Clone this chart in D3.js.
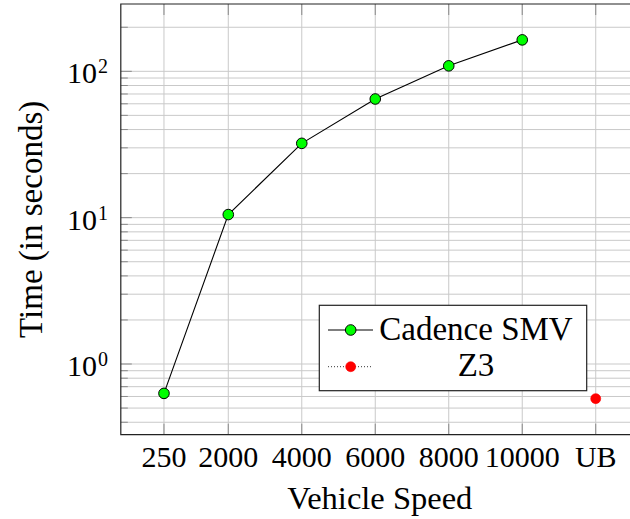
<!DOCTYPE html>
<html>
<head>
<meta charset="utf-8">
<script src="https://d3js.org/d3.v7.min.js"></script>
<style>
  body { margin: 0; background: #fff; }
  svg { display: block; }
  text { font-family: "Liberation Serif", "DejaVu Serif", serif; fill: #000; }
</style>
</head>
<body>
<svg width="630" height="519"></svg>
<script>
// data
var speedTicks = [250, 2000, 4000, 6000, 8000, 10000, 12000];
var speedLabels = ["250", "2000", "4000", "6000", "8000", "10000", "UB"];
var smvSpeeds = [250, 2000, 4000, 6000, 8000, 10000];
var smvTimes = [0.63, 10.5, 32.2, 64.7, 109, 164];
var z3Speeds = [12000];
var z3Times = [0.58];
var seriesNames = ["Cadence SMV", "Z3"];

(function() {
var svg = d3.select("svg"),
    pl = 120.8, pr = 638.9, pt = 4, pb = 434.7;

var x = d3.scaleLinear().domain([-925, 13175]).range([pl, pr]);
var y = d3.scaleLog().domain([Math.pow(10, -0.483), Math.pow(10, 2.46)]).range([pb, pt]);

var gridColor = "#c9c9c9", tickColor = "#8a8a8a";

// minor + major horizontal grid
var yMinor = [];
[0.1, 1, 10, 100].forEach(function(p) {
  for (var k = 1; k <= 9; k++) {
    var v = p * k;
    if (v >= y.domain()[0] && v <= y.domain()[1]) yMinor.push(v);
  }
});
var yMajor = [1, 10, 100];

svg.append("g").selectAll("line")
  .data(yMinor)
  .enter().append("line")
    .attr("x1", pl).attr("x2", pr)
    .attr("y1", function(d) { return y(d); })
    .attr("y2", function(d) { return y(d); })
    .attr("stroke", gridColor).attr("stroke-width", 1);

svg.append("g").selectAll("line")
  .data(speedTicks)
  .enter().append("line")
    .attr("x1", function(d) { return x(d); })
    .attr("x2", function(d) { return x(d); })
    .attr("y1", pt).attr("y2", pb)
    .attr("stroke", gridColor).attr("stroke-width", 1);

// ticks on the frame
var ticks = svg.append("g").attr("stroke", tickColor).attr("stroke-width", 1);
ticks.selectAll(".ym").data(yMinor).enter().append("line")
  .attr("x1", pl).attr("x2", function(d) { return yMajor.indexOf(d) >= 0 ? pl + 11 : pl + 7; })
  .attr("y1", function(d) { return y(d); }).attr("y2", function(d) { return y(d); });
ticks.selectAll(".xb").data(speedTicks).enter().append("line")
  .attr("x1", function(d) { return x(d); }).attr("x2", function(d) { return x(d); })
  .attr("y1", pb).attr("y2", pb - 11);
ticks.selectAll(".xt").data(speedTicks).enter().append("line")
  .attr("x1", function(d) { return x(d); }).attr("x2", function(d) { return x(d); })
  .attr("y1", pt).attr("y2", pt + 11);

// frame
svg.append("path")
  .attr("d", "M" + pr + "," + pt + "H" + pl + "V" + pb + "H" + pr)
  .attr("fill", "none").attr("stroke", "#222").attr("stroke-width", 1.2);

// x tick labels
svg.append("g").selectAll("text")
  .data(speedTicks)
  .enter().append("text")
    .attr("x", function(d) { return x(d); })
    .attr("y", 467)
    .attr("text-anchor", "middle")
    .style("font-size", "30px")
    .text(function(d, i) { return speedLabels[i]; });

// y tick labels 10^k
svg.append("g").selectAll("text")
  .data(yMajor)
  .enter().append("text")
    .attr("x", 97)
    .attr("y", function(d) { return y(d) + 12; })
    .attr("text-anchor", "end")
    .style("font-size", "30px")
    .text("10");
svg.append("g").selectAll("text")
  .data(yMajor)
  .enter().append("text")
    .attr("x", 98)
    .attr("y", function(d) { return y(d) + 2; })
    .style("font-size", "20px")
    .text(function(d) { return Math.round(Math.log10(d)); });

// axis titles
svg.append("text")
  .attr("x", (pl + pr) / 2).attr("y", 509)
  .attr("text-anchor", "middle")
  .style("font-size", "32.5px")
  .text("Vehicle Speed");
svg.append("text")
  .attr("transform", "translate(42," + ((pt + pb) / 2) + ") rotate(-90)")
  .attr("text-anchor", "middle")
  .style("font-size", "33px")
  .text("Time (in seconds)");

// Cadence SMV series
var line = d3.line()
  .x(function(d) { return x(d[0]); })
  .y(function(d) { return y(d[1]); });
var smv = d3.zip(smvSpeeds, smvTimes);
svg.append("path")
  .datum(smv)
  .attr("d", line)
  .attr("fill", "none").attr("stroke", "#000").attr("stroke-width", 1.1);
svg.append("g").selectAll("circle")
  .data(smv)
  .enter().append("circle")
    .attr("cx", function(d) { return x(d[0]); })
    .attr("cy", function(d) { return y(d[1]); })
    .attr("r", 5.3)
    .attr("fill", "#00ff00").attr("stroke", "#000").attr("stroke-width", 1);

// Z3 series
var z3 = d3.zip(z3Speeds, z3Times);
svg.append("g").selectAll("circle")
  .data(z3)
  .enter().append("circle")
    .attr("cx", function(d) { return x(d[0]); })
    .attr("cy", function(d) { return y(d[1]); })
    .attr("r", 5)
    .attr("fill", "#ff0000").attr("stroke", "#ff0000").attr("stroke-width", 0.6);

// legend
var lg = svg.append("g");
lg.append("rect")
  .attr("x", 319.3).attr("y", 305.3).attr("width", 267.4).attr("height", 85.4)
  .attr("fill", "#fff").attr("stroke", "#222").attr("stroke-width", 1.2);
lg.append("line").attr("x1", 328).attr("x2", 373).attr("y1", 330).attr("y2", 330)
  .attr("stroke", "#000").attr("stroke-width", 1.1);
lg.append("circle").attr("cx", 350.7).attr("cy", 330).attr("r", 5.3)
  .attr("fill", "#00ff00").attr("stroke", "#000").attr("stroke-width", 1);
lg.append("line").attr("x1", 328).attr("x2", 373).attr("y1", 366.7).attr("y2", 366.7)
  .attr("stroke", "#000").attr("stroke-width", 0.8).attr("stroke-dasharray", "1,2");
lg.append("circle").attr("cx", 350.7).attr("cy", 366.7).attr("r", 5)
  .attr("fill", "#ff0000").attr("stroke", "#ff0000").attr("stroke-width", 0.6);
lg.selectAll(".lt").data(seriesNames).enter().append("text")
  .attr("x", 476)
  .attr("y", function(d, i) { return i === 0 ? 339.5 : 376; })
  .attr("text-anchor", "middle")
  .style("font-size", "33px")
  .text(function(d) { return d; });
})();
</script>
</body>
</html>
